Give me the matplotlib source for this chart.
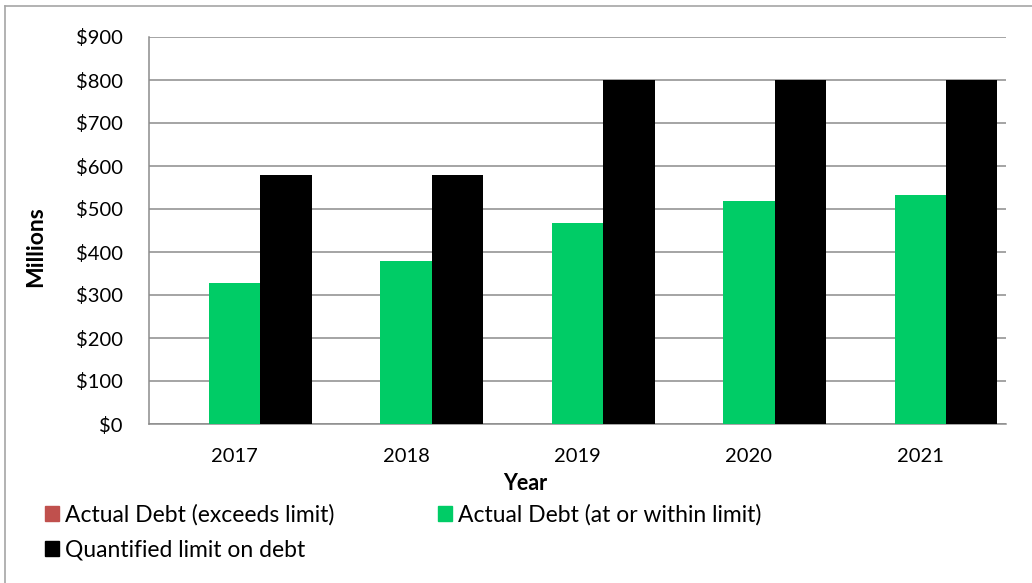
import numpy as np
import matplotlib
matplotlib.use("Agg")
import matplotlib.pyplot as plt
from matplotlib.patches import Patch
from matplotlib.lines import Line2D
from matplotlib.ticker import FuncFormatter, MultipleLocator

plt.rcParams['font.family'] = ['Lato', 'DejaVu Sans']

years = ['2017', '2018', '2019', '2020', '2021']
debt_exceeds = [0, 0, 0, 0, 0]
debt_within = [327, 379, 467, 519, 532]
debt_limit = [580, 580, 800, 800, 800]

labels = ['Actual Debt (exceeds limit)', 'Actual Debt (at or within limit)',
          'Quantified limit on debt']
colors = ['#C0504D', '#00CC66', '#000000']
grid_col = '#8C8C8C'

W, H = 1032, 583
fig = plt.figure(figsize=(W / 100, H / 100), dpi=100)
ax = fig.add_axes([149 / W, 1 - 424 / H, (1006 - 149) / W, (424 - 37) / H])

x = np.arange(len(years))
bw = 0.3
for i, vals in enumerate([debt_exceeds, debt_within, debt_limit]):
    ax.bar(x + (i - 1) * bw, vals, bw, color=colors[i], linewidth=0, zorder=3)

ax.set_xlim(-0.5, len(years) - 0.5)
ax.set_ylim(0, 900)
ax.yaxis.set_major_locator(MultipleLocator(100))
ax.yaxis.set_major_formatter(FuncFormatter(lambda v, p: f'${v:,.0f}'))
ax.set_xticks(x)
ax.set_xticklabels(years)
ax.grid(axis='y', color=grid_col, linewidth=1.1, zorder=0)
ax.tick_params(axis='y', length=0, pad=19, labelsize=14.5)
ax.tick_params(axis='x', length=0, pad=17, labelsize=14.5)
for s in ['top', 'right']:
    ax.spines[s].set_visible(False)
for s in ['left', 'bottom']:
    ax.spines[s].set_color(grid_col)
    ax.spines[s].set_linewidth(1.1)

fig.text(36 / W, 1 - 247 / H, 'Millions', rotation=90, ha='center', va='center',
         fontsize=16.5, fontweight='bold')
fig.text(525 / W, 1 - 483 / H, 'Year', ha='center', va='center',
         fontsize=15.5, fontweight='bold')

# legend: order chosen so ncol=2 fills rows as red/green then black
handles = [Patch(color=colors[0], label=labels[0]),
           Patch(color=colors[2], label=labels[2]),
           Patch(color=colors[1], label=labels[1])]
fig.legend(handles=handles, loc='upper left', bbox_to_anchor=(45 / W, 1 - 504 / H),
           ncol=2, frameon=False, fontsize=16.5, handlelength=0.62,
           handleheight=0.62, handletextpad=0.26, columnspacing=4.5,
           labelspacing=0.6, borderaxespad=0, borderpad=0)

# chart border
fig.add_artist(Line2D([5 / W, 5 / W], [0, 1 - 6 / H], color='#A6A6A6', lw=1.2,
                      transform=fig.transFigure))
fig.add_artist(Line2D([5 / W, 1], [1 - 6 / H, 1 - 6 / H], color='#A6A6A6', lw=1.2,
                      transform=fig.transFigure))

fig.savefig('out.png', dpi=100)
